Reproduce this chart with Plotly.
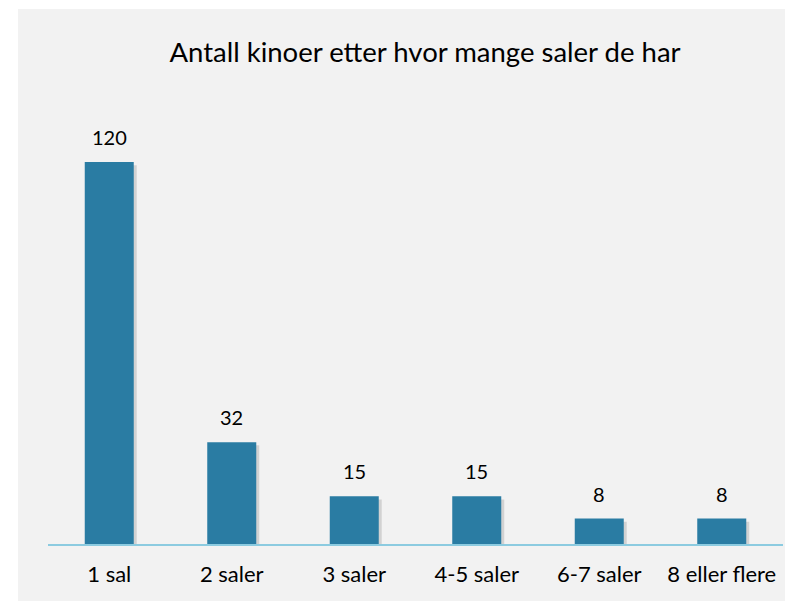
import plotly.graph_objects as go

categories = ["1 sal", "2 saler", "3 saler", "4-5 saler", "6-7 saler", "8 eller flere"]
values = [120, 32, 15, 15, 8, 8]
title_text = "Antall kinoer etter hvor mange saler de har"

OFF = 8  # page body margin
W, H = 793 - OFF, 601 - OFF
L = 48 - OFF
R = 793 - 783
T = 100 - OFF
B = 601 - 544
plot_w = W - L - R
plot_h = H - T - B
px_per_unit = 382 / 120

fig = go.Figure()
# soft shadow behind bars
fig.add_trace(go.Bar(
    x=categories, y=values, base=-1.0,
    marker=dict(color="rgba(0,0,0,0.13)", line=dict(width=0)),
    width=0.4, offset=-0.2 + 3 / 122.5,
    hoverinfo="skip",
))
fig.add_trace(go.Bar(
    x=categories, y=values,
    marker=dict(color="#2a7ca3", line=dict(width=0)),
    width=0.4, offset=-0.2,
    hoverinfo="x+y",
))

for c, v in zip(categories, values):
    fig.add_annotation(x=c, y=v, text=str(v), showarrow=False,
                       yanchor="middle", yshift=25,
                       font=dict(family="Lato", size=20, color="#000000"))

# gray background panel
fig.add_shape(type="rect", xref="paper", yref="paper", layer="below",
              x0=(18 - OFF - L) / plot_w, x1=(W + 5 - L) / plot_w,
              y0=-(H + 20 - (T + plot_h)) / plot_h,
              y1=(T + plot_h - (9 - OFF)) / plot_h,
              fillcolor="#f2f2f2", line=dict(width=0))

fig.update_layout(
    width=W, height=H,
    margin=dict(l=L, r=R, t=T, b=B, pad=0),
    paper_bgcolor="#ffffff",
    plot_bgcolor="rgba(0,0,0,0)",
    showlegend=False,
    barmode="overlay",
    title=dict(text=title_text, x=(425 - OFF) / W, xanchor="center", xref="container",
               y=1 - (52 - OFF) / H, yanchor="middle", yref="container",
               font=dict(family="Lato", size=27.5, color="#000000")),
    xaxis=dict(showline=True, linecolor="#8ccbe0", linewidth=2,
               ticks="outside", ticklen=10, tickcolor="rgba(0,0,0,0)",
               tickfont=dict(family="Lato", size=22, color="#000000"),
               showgrid=False, zeroline=False, range=[-0.5, 5.5]),
    yaxis=dict(visible=False, range=[0, plot_h / px_per_unit], showgrid=False,
               zeroline=False),
)

fig.write_html("out.html")
